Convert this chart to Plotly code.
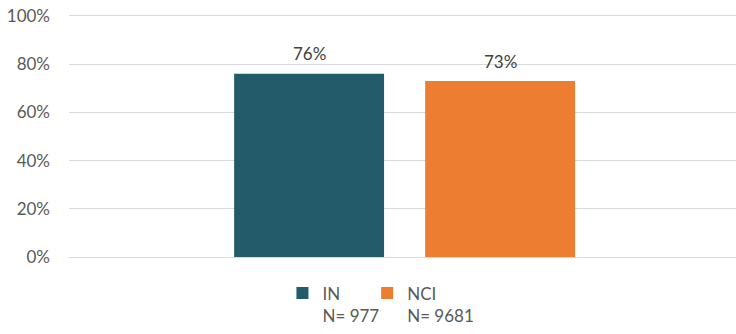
import plotly.graph_objects as go

categories = ["IN", "NCI"]
values = [76, 73]
labels = ["76%", "73%"]
legend_names = ["IN<br>N= 977", "NCI<br>N= 9681"]
colors = ["#235B6B", "#ED7D31"]
yticks = [0, 20, 40, 60, 80, 100]
ytick_text = ["0%", "20%", "40%", "60%", "80%", "100%"]

FONT = "Lato"
legend_ids = ["legend", "legend2"]
legend_x = [0.32, 0.447]

fig = go.Figure()
for cat, val, name, col, lid in zip(categories, values, legend_names, colors, legend_ids):
    fig.add_trace(go.Bar(x=[cat], y=[val], name=name, marker_color=col, legend=lid,
                         marker_line_width=0, width=0.785, hoverinfo="skip"))
for cat, val, lab in zip(categories, values, labels):
    fig.add_annotation(x=cat, y=val, text=lab, showarrow=False, yshift=20,
                       font=dict(family=FONT, size=17, color="#404040"))

legend_style = dict(orientation="v", xanchor="left", y=-0.315, yanchor="bottom",
                    font=dict(family=FONT, size=17, color="#595959"),
                    itemwidth=30, valign="top", bgcolor="rgba(0,0,0,0)")

fig.update_layout(
    width=736, height=334,
    margin=dict(l=69, r=0, t=14, b=77),
    paper_bgcolor="white", plot_bgcolor="white",
    barmode="relative",
    font=dict(family=FONT, size=16, color="#595959"),
    showlegend=True,
    legend=dict(x=legend_x[0], **legend_style),
    legend2=dict(x=legend_x[1], **legend_style),
)
fig.update_xaxes(type="category", range=[-1.257, 2.235], showticklabels=False,
                 showgrid=False, zeroline=False, showline=False, fixedrange=True,
                 automargin=False)
fig.update_yaxes(range=[0, 100.8], tickvals=yticks, ticktext=ytick_text,
                 showgrid=True, gridcolor="#D9D9D9", gridwidth=1,
                 zeroline=True, zerolinecolor="#D9D9D9", zerolinewidth=1,
                 showline=False, ticklabelstandoff=18, automargin=False,
                 fixedrange=True,
                 tickfont=dict(family=FONT, size=17, color="#595959"))

fig.write_html("out.html", config={"displayModeBar": False})

with open("out.html", encoding="utf-8") as f:
    html = f.read()
html = html.replace("<body>", '<body style="margin:0;overflow:hidden">', 1)
with open("out.html", "w", encoding="utf-8") as f:
    f.write(html)
